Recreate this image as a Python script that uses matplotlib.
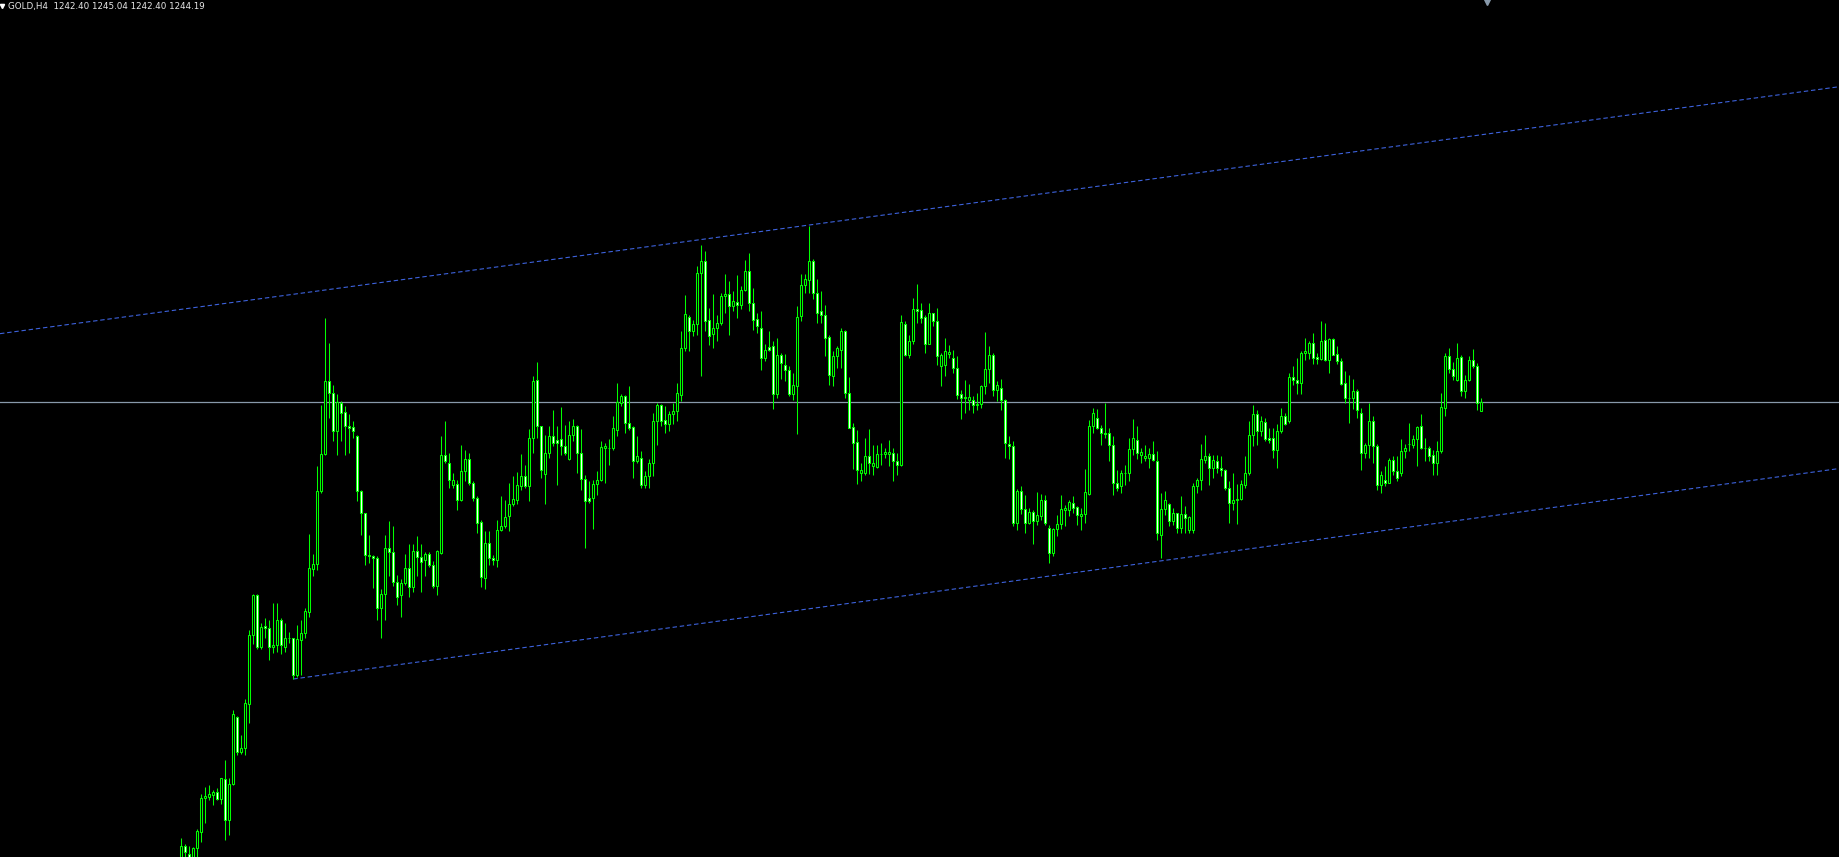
import matplotlib
matplotlib.use("Agg")
import matplotlib.pyplot as plt
from matplotlib.lines import Line2D

# GOLD H4 candles (oldest first)
symbol = "GOLD,H4"

opens = [
    1150.6, 1155.4, 1153.8, 1152.3, 1155.1, 1158.3, 1164.9, 1165.3, 1165.5, 1166.1,
    1164.7, 1168.7, 1160.5, 1167.7, 1181.2, 1174.3, 1175.1, 1183.7, 1197.5, 1205.5,
    1195.3, 1199.3, 1198.9, 1195.3, 1195.5, 1200.5, 1195.3, 1196.9, 1196.9, 1189.5,
    1196.6, 1197.9, 1202.3, 1210.7, 1211.7, 1226.3, 1233.7, 1248.3, 1245.9, 1238.3,
    1244.1, 1242.1, 1239.3, 1239.2, 1237.4, 1226.3, 1221.9, 1213.5, 1213.4, 1212.9,
    1203.1, 1205.8, 1215.1, 1214.3, 1208.3, 1205.6, 1207.9, 1211.1, 1207.3, 1214.4,
    1213.3, 1212.6, 1213.8, 1211.6, 1207.4, 1214.1, 1233.5, 1231.9, 1227.6, 1227.7,
    1224.6, 1230.3, 1232.7, 1227.9, 1225.1, 1220.3, 1209.1, 1215.9, 1212.9, 1212.5,
    1218.5, 1219.3, 1221.3, 1223.7, 1224.6, 1227.4, 1229.4, 1227.3, 1236.9, 1248.5,
    1239.3, 1229.7, 1233.9, 1237.3, 1236.6, 1236.7, 1235.4, 1232.7, 1237.5, 1239.4,
    1233.9, 1228.7, 1224.9, 1224.9, 1227.7, 1228.5, 1234.9, 1235.1, 1234.9, 1238.5,
    1243.9, 1245.4, 1240.1, 1239.1, 1232.3, 1232.9, 1227.5, 1229.4, 1231.9, 1240.3,
    1243.6, 1240.6, 1239.7, 1241.7, 1242.3, 1245.5, 1254.9, 1261.1, 1258.4, 1259.7,
    1269.9, 1272.4, 1260.5, 1257.7, 1258.9, 1260.1, 1265.3, 1265.8, 1263.3, 1264.1,
    1263.5, 1266.5, 1270.4, 1264.1, 1260.7, 1259.1, 1253.1, 1255.2, 1255.3, 1245.7,
    1253.6, 1251.6, 1250.6, 1245.7, 1247.3, 1261.3, 1267.5, 1268.6, 1272.4, 1266.1,
    1262.3, 1261.6, 1257.1, 1249.3, 1253.3, 1254.6, 1258.4, 1246.1, 1239.2, 1236.1,
    1229.9, 1229.9, 1233.4, 1231.3, 1231.2, 1233.7, 1233.7, 1233.8, 1233.9, 1232.4,
    1231.5, 1259.8, 1253.6, 1256.3, 1262.7, 1262.5, 1261.1, 1255.8, 1261.9, 1260.4,
    1251.3, 1251.5, 1253.7, 1252.9, 1251.1, 1245.8, 1245.2, 1244.5, 1244.6, 1243.6,
    1243.7, 1247.3, 1250.8, 1253.6, 1246.5, 1247.1, 1244.6, 1235.8, 1235.4, 1220.1,
    1226.4, 1222.7, 1220.1, 1222.2, 1220.3, 1221.3, 1224.6, 1218.9, 1213.9, 1218.7,
    1219.8, 1222.5, 1222.5, 1224.0, 1223.1, 1221.3, 1221.7, 1225.8, 1239.3, 1240.9,
    1239.1, 1237.9, 1237.9, 1235.6, 1228.1, 1227.3, 1229.9, 1229.9, 1234.7, 1236.5,
    1233.5, 1232.9, 1232.9, 1233.7, 1232.4, 1217.5, 1222.8, 1223.8, 1220.4, 1221.9,
    1218.9, 1221.7, 1218.5, 1218.6, 1227.3, 1228.5, 1232.6, 1233.4, 1231.1, 1232.4,
    1230.9, 1230.6, 1227.1, 1224.1, 1224.5, 1224.8, 1227.6, 1230.1, 1237.6, 1241.7,
    1238.3, 1240.1, 1236.9, 1237.1, 1234.6, 1238.3, 1241.3, 1240.3, 1249.1, 1248.5,
    1248.1, 1253.9, 1254.1, 1255.9, 1253.1, 1252.7, 1256.6, 1252.5, 1256.8, 1253.7,
    1252.4, 1247.9, 1244.9, 1244.9, 1246.4, 1241.9, 1233.9, 1235.5, 1240.4, 1235.4,
    1227.6, 1228.5, 1228.1, 1232.6, 1230.4, 1229.9, 1234.3, 1235.7, 1235.6, 1236.7,
    1239.3, 1234.9, 1234.9, 1233.5, 1232.1, 1234.3, 1243.1, 1253.3, 1250.7, 1248.6,
    1253.1, 1246.3, 1248.6, 1252.5, 1251.4, 1242.40,
]

highs = [
    1156.9, 1155.8, 1155.4, 1155.3, 1158.8, 1165.7, 1167.3, 1167.5, 1166.5, 1167.1,
    1168.9, 1172.6, 1168.9, 1182.6, 1181.4, 1177.6, 1184.7, 1198.5, 1205.7, 1205.7,
    1199.9, 1201.1, 1200.5, 1203.9, 1204.1, 1201.1, 1200.1, 1198.3, 1196.9, 1199.5,
    1200.5, 1203.1, 1217.7, 1213.7, 1231.4, 1243.6, 1260.9, 1255.9, 1247.6, 1245.7,
    1244.3, 1243.3, 1241.8, 1240.4, 1237.5, 1226.6, 1222.1, 1217.6, 1213.6, 1213.4,
    1206.8, 1217.6, 1220.3, 1219.4, 1209.6, 1208.7, 1213.8, 1215.8, 1215.8, 1217.4,
    1215.8, 1214.3, 1214.3, 1212.4, 1214.5, 1237.3, 1240.4, 1233.9, 1230.1, 1228.6,
    1235.6, 1234.6, 1234.1, 1228.3, 1225.3, 1220.5, 1218.4, 1218.4, 1213.6, 1220.5,
    1225.4, 1224.6, 1227.9, 1229.4, 1230.2, 1233.8, 1231.6, 1238.8, 1249.4, 1252.2,
    1239.4, 1237.6, 1239.4, 1242.6, 1239.4, 1243.2, 1239.6, 1240.4, 1240.8, 1239.6,
    1238.8, 1229.6, 1228.3, 1228.6, 1230.4, 1236.4, 1235.9, 1236.8, 1241.4, 1248.1,
    1245.8, 1245.6, 1247.4, 1239.3, 1237.4, 1234.3, 1230.3, 1232.7, 1241.9, 1243.9,
    1243.7, 1243.3, 1242.4, 1244.1, 1247.9, 1258.3, 1265.5, 1261.5, 1260.6, 1271.3,
    1275.6, 1274.4, 1263.1, 1265.8, 1261.6, 1265.9, 1269.8, 1268.4, 1266.3, 1269.6,
    1267.3, 1272.6, 1273.9, 1266.9, 1262.1, 1262.4, 1255.7, 1258.4, 1256.3, 1257.1,
    1253.9, 1253.7, 1251.3, 1249.9, 1263.4, 1269.7, 1269.7, 1279.3, 1272.8, 1268.8,
    1266.4, 1263.6, 1257.6, 1254.4, 1255.3, 1259.1, 1258.5, 1249.2, 1239.9, 1238.6,
    1232.1, 1237.1, 1238.8, 1235.6, 1235.5, 1236.0, 1235.1, 1236.6, 1235.1, 1234.1,
    1261.6, 1260.3, 1257.6, 1265.1, 1267.8, 1264.1, 1261.6, 1264.1, 1262.1, 1263.1,
    1254.1, 1257.1, 1255.6, 1254.6, 1253.3, 1246.6, 1248.6, 1247.8, 1245.3, 1245.9,
    1247.6, 1258.2, 1255.4, 1253.9, 1248.3, 1248.8, 1244.7, 1237.3, 1236.3, 1226.8,
    1227.3, 1225.6, 1223.1, 1222.6, 1226.2, 1225.8, 1225.6, 1219.6, 1219.1, 1221.6,
    1225.6, 1223.6, 1224.5, 1225.4, 1223.3, 1222.9, 1230.8, 1240.5, 1242.9, 1242.7,
    1239.5, 1244.1, 1238.9, 1237.4, 1230.6, 1230.6, 1231.6, 1237.1, 1240.8, 1239.4,
    1234.9, 1235.6, 1234.9, 1236.4, 1234.3, 1226.1, 1226.4, 1224.1, 1222.9, 1222.1,
    1225.3, 1223.4, 1221.4, 1227.9, 1229.1, 1235.7, 1237.6, 1233.9, 1233.5, 1233.6,
    1233.3, 1230.7, 1228.3, 1229.9, 1227.7, 1228.6, 1233.3, 1240.3, 1243.5, 1242.6,
    1241.3, 1240.9, 1238.9, 1238.9, 1239.7, 1242.9, 1242.1, 1250.1, 1251.4, 1252.9,
    1254.4, 1256.9, 1256.3, 1257.9, 1254.1, 1260.4, 1260.0, 1256.9, 1257.1, 1255.3,
    1252.9, 1250.4, 1249.6, 1248.8, 1246.8, 1242.9, 1236.1, 1244.1, 1241.3, 1235.8,
    1230.3, 1231.4, 1232.9, 1233.4, 1233.3, 1236.8, 1235.8, 1239.9, 1237.6, 1239.4,
    1241.8, 1236.9, 1235.3, 1234.5, 1236.3, 1245.9, 1254.1, 1255.1, 1252.2, 1256.1,
    1253.6, 1249.6, 1253.3, 1254.7, 1251.9, 1245.04,
]

lows = [
    1149.3, 1153.2, 1151.9, 1151.9, 1153.2, 1156.3, 1160.0, 1164.5, 1163.5, 1164.5,
    1163.7, 1156.6, 1157.6, 1167.6, 1173.5, 1173.7, 1173.5, 1180.1, 1195.7, 1194.7,
    1194.7, 1196.9, 1192.5, 1193.9, 1194.3, 1193.7, 1194.3, 1196.1, 1188.8, 1189.3,
    1189.6, 1197.1, 1201.3, 1209.4, 1210.6, 1225.9, 1233.6, 1241.1, 1236.3, 1233.6,
    1236.3, 1233.6, 1234.1, 1236.9, 1224.3, 1217.6, 1211.5, 1211.9, 1206.9, 1200.5,
    1197.1, 1200.5, 1209.4, 1207.4, 1203.6, 1201.3, 1207.6, 1205.3, 1206.3, 1209.4,
    1206.3, 1209.4, 1211.3, 1206.9, 1205.6, 1213.8, 1231.9, 1226.9, 1227.1, 1222.6,
    1224.3, 1228.3, 1227.5, 1224.3, 1217.9, 1207.3, 1206.7, 1211.5, 1211.5, 1211.3,
    1218.3, 1218.9, 1218.3, 1223.3, 1223.8, 1226.6, 1227.1, 1224.3, 1233.9, 1236.9,
    1228.9, 1223.7, 1233.1, 1235.3, 1227.5, 1233.6, 1233.6, 1232.6, 1236.3, 1230.1,
    1226.5, 1215.1, 1223.9, 1218.8, 1225.6, 1228.3, 1228.1, 1231.6, 1234.6, 1237.3,
    1243.3, 1237.9, 1238.6, 1229.1, 1231.9, 1226.9, 1226.9, 1226.9, 1229.3, 1235.6,
    1239.3, 1238.1, 1238.3, 1239.7, 1240.3, 1244.4, 1254.4, 1254.3, 1257.3, 1257.6,
    1249.3, 1258.3, 1255.6, 1255.1, 1256.4, 1259.6, 1262.1, 1257.5, 1262.3, 1261.1,
    1262.8, 1266.3, 1262.3, 1258.6, 1257.9, 1250.5, 1252.3, 1254.3, 1242.8, 1245.1,
    1248.8, 1248.3, 1245.3, 1244.6, 1237.7, 1260.4, 1265.9, 1266.1, 1264.8, 1259.9,
    1260.1, 1253.3, 1247.6, 1247.3, 1250.9, 1250.9, 1245.1, 1238.9, 1230.8, 1227.7,
    1228.3, 1229.5, 1229.7, 1229.5, 1230.9, 1231.5, 1233.1, 1231.3, 1228.4, 1229.5,
    1231.3, 1253.3, 1253.1, 1255.7, 1259.9, 1259.9, 1254.1, 1255.7, 1259.4, 1251.6,
    1247.3, 1249.3, 1252.9, 1249.9, 1244.7, 1240.8, 1242.1, 1242.5, 1242.1, 1242.5,
    1242.9, 1245.8, 1247.9, 1245.3, 1244.3, 1242.6, 1233.1, 1232.7, 1219.4, 1218.5,
    1221.8, 1218.1, 1219.8, 1215.8, 1219.6, 1220.6, 1219.6, 1212.1, 1213.4, 1217.3,
    1218.7, 1219.4, 1221.4, 1222.1, 1219.6, 1218.5, 1220.1, 1225.6, 1238.1, 1238.7,
    1235.6, 1236.9, 1232.3, 1225.5, 1226.3, 1226.1, 1227.6, 1228.3, 1233.6, 1232.7,
    1232.1, 1232.3, 1230.9, 1232.3, 1216.5, 1212.9, 1221.6, 1219.3, 1219.6, 1217.9,
    1218.1, 1218.1, 1217.9, 1218.1, 1226.1, 1226.5, 1231.9, 1227.6, 1228.9, 1229.9,
    1229.3, 1226.5, 1220.1, 1222.6, 1219.7, 1224.6, 1227.1, 1229.6, 1235.3, 1235.6,
    1237.3, 1236.4, 1235.9, 1232.9, 1231.1, 1238.1, 1239.6, 1240.1, 1247.5, 1245.8,
    1245.8, 1252.6, 1252.8, 1251.8, 1251.8, 1252.6, 1252.3, 1250.1, 1253.5, 1251.8,
    1247.6, 1244.1, 1240.1, 1242.8, 1241.1, 1230.6, 1233.1, 1233.1, 1232.1, 1226.5,
    1226.1, 1227.3, 1227.9, 1229.6, 1228.3, 1229.3, 1233.1, 1234.3, 1234.9, 1231.4,
    1234.8, 1232.3, 1232.3, 1229.5, 1229.6, 1234.1, 1241.3, 1250.1, 1248.5, 1248.3,
    1245.4, 1245.1, 1248.3, 1250.9, 1242.5, 1242.40,
]

closes = [
    1155.4, 1154.2, 1152.3, 1155.1, 1158.4, 1164.9, 1165.3, 1165.7, 1166.1, 1164.7,
    1168.9, 1160.5, 1167.7, 1181.8, 1174.3, 1175.1, 1183.9, 1197.5, 1205.5, 1195.3,
    1199.3, 1198.9, 1195.3, 1195.5, 1200.5, 1195.5, 1197.1, 1197.1, 1189.5, 1196.7,
    1197.9, 1202.3, 1210.9, 1211.7, 1226.3, 1233.7, 1248.3, 1246.1, 1238.3, 1244.1,
    1242.1, 1239.3, 1239.1, 1238.3, 1226.3, 1221.9, 1213.5, 1213.4, 1213.1, 1203.1,
    1205.8, 1215.1, 1214.3, 1208.3, 1205.3, 1207.9, 1211.1, 1207.3, 1214.4, 1213.3,
    1212.3, 1213.8, 1211.6, 1207.4, 1214.3, 1233.6, 1232.3, 1228.5, 1228.5, 1224.6,
    1230.3, 1232.7, 1228.1, 1225.1, 1220.1, 1209.3, 1215.9, 1212.9, 1212.5, 1218.6,
    1219.4, 1221.1, 1223.7, 1224.7, 1227.5, 1229.4, 1227.3, 1236.9, 1248.4, 1239.3,
    1230.5, 1233.9, 1237.3, 1236.1, 1236.1, 1235.3, 1234.1, 1237.5, 1239.4, 1233.9,
    1228.7, 1224.3, 1224.3, 1227.8, 1228.6, 1235.1, 1235.4, 1234.9, 1238.9, 1244.1,
    1245.4, 1240.1, 1239.1, 1232.3, 1233.4, 1227.5, 1229.4, 1232.0, 1240.3, 1243.6,
    1240.3, 1239.7, 1241.7, 1242.4, 1245.9, 1254.9, 1261.7, 1258.3, 1259.7, 1269.9,
    1272.4, 1260.3, 1257.3, 1258.9, 1259.9, 1265.4, 1265.8, 1263.3, 1264.4, 1263.5,
    1266.6, 1270.4, 1264.1, 1260.6, 1259.3, 1253.1, 1254.6, 1254.6, 1245.7, 1253.6,
    1251.9, 1250.5, 1245.7, 1247.5, 1261.1, 1267.6, 1268.8, 1272.4, 1266.1, 1262.1,
    1261.5, 1257.1, 1249.5, 1253.4, 1254.9, 1258.4, 1246.1, 1239.1, 1235.9, 1230.5,
    1230.6, 1233.4, 1231.9, 1231.9, 1233.7, 1233.8, 1234.2, 1234.2, 1232.3, 1231.5,
    1260.1, 1253.6, 1256.3, 1262.7, 1262.3, 1261.1, 1255.8, 1261.9, 1260.3, 1253.3,
    1253.6, 1254.3, 1254.1, 1251.1, 1245.6, 1245.1, 1245.1, 1245.1, 1243.5, 1243.8,
    1247.4, 1250.7, 1253.6, 1246.5, 1247.6, 1244.6, 1235.9, 1235.3, 1220.1, 1226.4,
    1222.7, 1220.1, 1222.2, 1220.3, 1221.6, 1224.6, 1219.9, 1214.1, 1218.7, 1219.8,
    1222.7, 1222.9, 1224.2, 1223.1, 1221.5, 1221.8, 1226.1, 1239.4, 1241.9, 1239.1,
    1237.9, 1237.7, 1235.6, 1228.1, 1227.1, 1229.9, 1230.0, 1234.8, 1236.9, 1234.1,
    1234.1, 1233.4, 1233.7, 1232.5, 1218.1, 1222.8, 1224.6, 1220.4, 1221.9, 1218.9,
    1221.7, 1221.1, 1221.1, 1227.4, 1228.6, 1232.7, 1233.4, 1231.1, 1232.5, 1230.9,
    1230.5, 1227.1, 1224.1, 1224.6, 1224.7, 1227.7, 1230.1, 1237.6, 1241.7, 1238.3,
    1240.4, 1236.7, 1236.6, 1234.6, 1238.3, 1241.3, 1239.8, 1249.1, 1248.5, 1248.1,
    1253.9, 1254.4, 1255.9, 1252.9, 1252.8, 1256.4, 1252.5, 1256.8, 1253.6, 1252.3,
    1247.8, 1244.9, 1245.0, 1246.4, 1242.6, 1233.9, 1235.6, 1240.4, 1235.3, 1227.5,
    1229.6, 1228.1, 1232.6, 1230.3, 1229.1, 1234.3, 1234.9, 1235.8, 1236.7, 1239.1,
    1234.9, 1235.0, 1233.3, 1232.1, 1234.3, 1243.1, 1253.3, 1250.7, 1249.3, 1253.1,
    1246.3, 1248.6, 1252.5, 1251.3, 1243.9, 1244.19,
]

# trend lines drawn on the chart: (bar index, price)
upper_line = [(130, 1276.7), (157, 1279.6)]
lower_line = [(28, 1188.8), (230, 1210.8)]

green = "#00ff00"
blue = "#3d62dc"
gray = "#8899aa"

fig = plt.figure(figsize=(18.4, 8.57), dpi=100, facecolor="black")
ax = fig.add_axes([0, 0, 1, 1])
ax.set_facecolor("black")

n = len(closes)
xs = list(range(n))

# wicks
ax.vlines(xs, lows, highs, colors=green, linewidth=0.75, zorder=2)

# bodies: bull = black with green border, bear = white with green border
bottoms = [min(o, c) for o, c in zip(opens, closes)]
heights = [abs(c - o) for o, c in zip(opens, closes)]
faces = ["black" if c >= o else "white" for o, c in zip(opens, closes)]
ax.bar(xs, heights, bottom=bottoms, width=0.5, color=faces,
       edgecolor=green, linewidth=0.75, zorder=3)

# bid line
ax.axhline(closes[-1], color=gray, linewidth=0.9, zorder=1)

xmin, xmax = -45.33, 414.68

# upper trend line, extended both ways
ax.axline(upper_line[0], upper_line[1], color=blue, linewidth=0.8,
          linestyle=(0, (4, 2.5)), zorder=1)

# lower trend line as a ray to the right
(x0, y0), (x1, y1) = lower_line
slope = (y1 - y0) / (x1 - x0)
ax.plot([x0, xmax], [y0, y0 + slope * (xmax - x0)], color=blue,
        linewidth=0.8, linestyle=(0, (4, 2.5)), zorder=1)

ax.set_xlim(xmin, xmax)
ax.set_ylim(1153.2, 1324.6)
ax.axis("off")

# header
header = f"{symbol}  {opens[-1]:.2f} {highs[-1]:.2f} {lows[-1]:.2f} {closes[-1]:.2f}"
fig.text(8.5 / 1840, 1 - 6 / 857, header, color="#e8e8e8", fontsize=6.3,
         va="center", ha="left")
fig.add_artist(Line2D([2.5 / 1840], [1 - 5.5 / 857], marker="v", markersize=3,
                      color="white", transform=fig.transFigure))
fig.add_artist(Line2D([1487 / 1840], [1 - 1.5 / 857], marker="v", markersize=4,
                      color=gray, transform=fig.transFigure))

fig.savefig("out.png", dpi=100, facecolor="black")
